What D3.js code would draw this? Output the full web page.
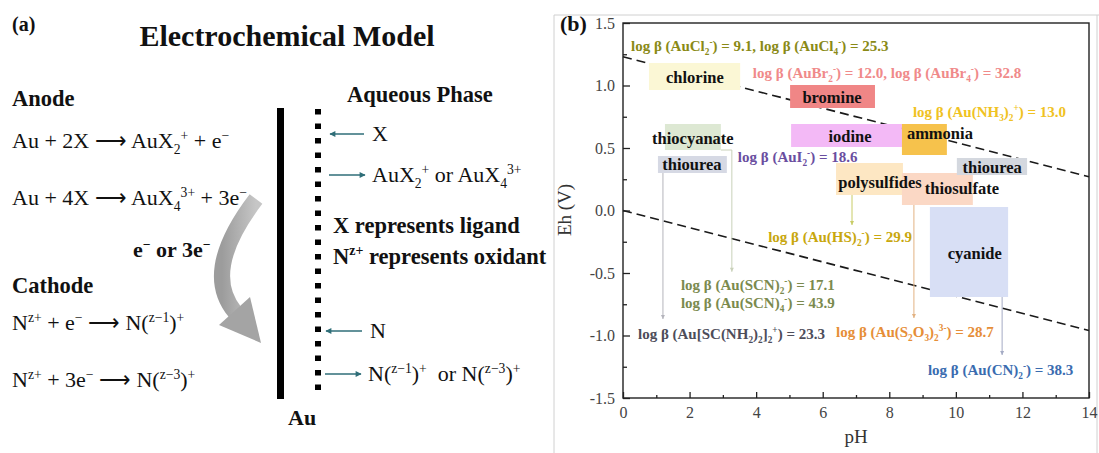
<!DOCTYPE html>
<html>
<head>
<meta charset="utf-8">
<script src="https://cdn.jsdelivr.net/npm/d3@7"></script>
<style>
  body { margin: 0; background: #fff; }
  svg { display: block; }
  svg text { font-family: "Liberation Serif", "Times New Roman", serif; }
</style>
</head>
<body>
<svg id="fig" width="1099" height="453"></svg>
<script>
// ---- data (panel b: pH / Eh units) ----
const regions = ['chlorine', 'bromine', 'iodine', 'ammonia', 'thiocyanate', 'thiourea',
  'polysulfides', 'thiosulfate', 'thiourea', 'cyanide'];
const regionPH = [[0.78, 3.52], [5.02, 7.57], [5.05, 8.38], [8.38, 9.73], [1.26, 2.94],
  [1.05, 3.12], [6.40, 8.41], [8.38, 10.51], [10.03, 12.14], [9.22, 11.57]];
const regionEh = [[0.964, 1.18], [0.82, 1.004], [0.508, 0.692], [0.444, 0.692], [0.484, 0.692],
  [0.30, 0.436], [0.124, 0.38], [0.044, 0.30], [0.284, 0.42], [-0.692, 0.028]];
const regionFill = ['#fbf7d5', '#f08686', '#f3b9f6', '#f6c24c', '#dde8d3', '#d6d9e4',
  '#fde7c3', '#fbd8c5', '#d4d8df', '#d8dff5'];
const regionTextAt = [[2.16, 1.07], [6.28, 0.908], [6.82, 0.596], [9.52, 0.62], [2.10, 0.58],
  [2.07, 0.37], [7.72, 0.228], [10.18, 0.18], [11.09, 0.348], [10.57, -0.34]];

const stabLabels = [
  'log β (AuCl_{2}^{-}) = 9.1, log β (AuCl_{4}^{-}) = 25.3',
  'log β (AuBr_{2}^{-}) = 12.0, log β (AuBr_{4}^{-}) = 32.8',
  'log β (Au(NH_{3})_{2}^{+}) = 13.0',
  'log β (AuI_{2}^{-}) = 18.6',
  'log β (Au(HS)_{2}^{-}) = 29.9',
  'log β (Au(SCN)_{2}^{-}) = 17.1',
  'log β (Au(SCN)_{4}^{-}) = 43.9',
  'log β (Au[SC(NH_{2})_{2}]_{2}^{+}) = 23.3',
  'log β (Au(S_{2}O_{3})_{2}^{3-}) = 28.7',
  'log β (Au(CN)_{2}^{-}) = 38.3'];
const stabAt = [[0.24, 1.316], [3.9, 1.10], [8.71, 0.788], [3.45, 0.428], [4.36, -0.212],
  [1.74, -0.596], [1.74, -0.74], [0.45, -0.988], [6.40, -0.972], [9.16, -1.276]];
const stabColor = ['#8a8a16', '#f08a8a', '#f0c222', '#6a4ea0', '#c8a70e',
  '#7b8a4e', '#7b8a4e', '#4d4d5a', '#e68e38', '#3a6cb0'];

// leader lines from region boxes down to their labels
const leaders = [
  [[1.2, 0.30], [1.2, -0.868]],
  [[2.94, 0.484], [3.27, 0.484], [3.27, -0.49]],
  [[6.88, 0.124], [6.88, -0.116]],
  [[8.74, 0.044], [8.74, -0.86]],
  [[11.39, -0.692], [11.39, -1.156]]];
const leaderColor = ['#b4b4bc', '#c9d1b9', '#c8cc66', '#e2b282', '#a4abc4'];

// water stability lines
const waterUpper = [[0, 1.23], [14, 0.27]];
const waterLower = [[0, 0], [14, -0.96]];

const xTicks = [0, 2, 4, 6, 8, 10, 12, 14];
const xMinor = [1, 3, 5, 7, 9, 11, 13];
const yTicks = [-1.5, -1.0, -0.5, 0.0, 0.5, 1.0, 1.5];
const yMinor = [-1.25, -0.75, -0.25, 0.25, 0.75, 1.25];

// ---- data (panel a) ----
const anodeEq = ['Au + 2X ⟶ AuX_{2}^{+} + e^{−}', 'Au + 4X ⟶ AuX_{4}^{3+} + 3e^{−}'];
const cathodeEq = ['N^{z+} + e^{−} ⟶ N(^{z−1})^{+}', 'N^{z+} + 3e^{−} ⟶ N(^{z−3})^{+}'];
const species = ['X', 'AuX_{2}^{+} or AuX_{4}^{3+}', 'N', 'N(^{z−1})^{+}  or N(^{z−3})^{+}'];

const svg = d3.select('#fig');

// text with _{sub} and ^{sup} pieces
function rich(sel, str, size) {
  const parts = str.split(/(_\{[^}]*\}|\^\{[^}]*\})/).filter(p => p.length);
  let cur = 0;
  parts.forEach((p) => {
    let t = p;
    let shift = 0;
    let fs = size;
    if (p[0] === '_' && p[1] === '{') { t = p.slice(2, -1); shift = size * 0.25; fs = size * 0.62; }
    else if (p[0] === '^' && p[1] === '{') { t = p.slice(2, -1); shift = -size * 0.38; fs = size * 0.62; }
    sel.append('tspan').attr('dy', shift - cur).attr('font-size', fs).text(t);
    cur = shift;
  });
  return sel;
}

function label(x, y, str, size, opts = {}) {
  const t = svg.append('text')
    .attr('x', x).attr('y', y)
    .attr('font-size', size)
    .attr('font-weight', opts.bold ? 'bold' : 'normal')
    .attr('fill', opts.fill || '#111')
    .attr('text-anchor', opts.anchor || 'start')
    .style('white-space', 'pre');
  return rich(t, str, size);
}

// ================= panel (a) =================
label(12, 31, '(a)', 20, { bold: true });
label(287, 46, 'Electrochemical Model', 30, { bold: true, anchor: 'middle' });
label(12, 106, 'Anode', 22.5, { bold: true });
anodeEq.forEach((s, i) => label(12, 148 + i * 57, s, 22));
label(133, 257, 'e^{−} or 3e^{−}', 22, { bold: true });
label(12, 293, 'Cathode', 22.5, { bold: true });
cathodeEq.forEach((s, i) => label(12, 330 + i * 57, s, 22));

// curved grey arrow
const grad = svg.append('defs').append('linearGradient').attr('id', 'g1')
  .attr('x1', 0).attr('y1', 0).attr('x2', 1).attr('y2', 0);
grad.append('stop').attr('offset', 0).attr('stop-color', '#9c9c9c');
grad.append('stop').attr('offset', 1).attr('stop-color', '#c6c6c6');
const arc = d3.path();
arc.moveTo(256, 199);
arc.quadraticCurveTo(201, 271, 235, 312);
svg.append('path').attr('d', arc.toString())
  .attr('fill', 'none').attr('stroke', 'url(#g1)').attr('stroke-width', 16);
svg.append('path').attr('d', 'M219,325 L250,297 L261,343 Z').attr('fill', '#a4a4a4');

// electrode
svg.append('rect').attr('x', 277).attr('y', 108).attr('width', 7).attr('height', 291).attr('fill', '#000');
svg.append('line').attr('x1', 318).attr('x2', 318).attr('y1', 109).attr('y2', 399)
  .attr('stroke', '#000').attr('stroke-width', 6).attr('stroke-dasharray', '5.5 9');
label(288, 425, 'Au', 22, { bold: true });
label(347, 102, 'Aqueous Phase', 22.5, { bold: true });
label(333, 233, 'X represents ligand', 22.5, { bold: true });
label(333, 264, 'N^{z+} represents oxidant', 22.5, { bold: true });

const teal = '#2f6e78';
const defs = svg.select('defs');
defs.append('marker').attr('id', 'ah').attr('viewBox', '0 0 10 10')
  .attr('refX', 9).attr('refY', 5).attr('markerWidth', 7).attr('markerHeight', 6)
  .attr('orient', 'auto').attr('markerUnits', 'userSpaceOnUse')
  .append('path').attr('d', 'M0,0 L10,5 L0,10 Z').attr('fill', teal);
const arrowRows = [[364, 330, 134], [329, 365, 175], [362, 326, 331], [325, 361, 374]];
arrowRows.forEach(([x1, x2, yy]) => {
  svg.append('line').attr('x1', x1).attr('x2', x2).attr('y1', yy).attr('y2', yy)
    .attr('stroke', teal).attr('stroke-width', 1.6).attr('marker-end', 'url(#ah)');
});
const speciesPos = [[372, 141], [372, 182], [370, 338], [368, 381]];
species.forEach((s, i) => label(speciesPos[i][0], speciesPos[i][1], s, 22));

// ================= panel (b) =================
svg.append('path').attr('d', 'M554,453 L554,15 L1099,15 M1097,15 L1097,453')
  .attr('fill', 'none').attr('stroke', '#d0d0d0').attr('stroke-width', 1);

const x = d3.scaleLinear().domain([0, 14]).range([623, 1089]);
const y = d3.scaleLinear().domain([-1.5, 1.5]).range([398, 23]);
const line = d3.line().x(d => x(d[0])).y(d => y(d[1]));

const plot = svg.append('g');
[waterUpper, waterLower].forEach((w) => {
  plot.append('path').datum(w).attr('d', line)
    .attr('fill', 'none').attr('stroke', '#1a1a1a').attr('stroke-width', 1.6)
    .attr('stroke-dasharray', '9 5');
});

leaders.forEach((l, i) => {
  plot.append('path').datum(l).attr('d', line)
    .attr('fill', 'none').attr('stroke', leaderColor[i]).attr('stroke-width', 1);
  const end = l[l.length - 1];
  plot.append('path')
    .attr('d', `M${x(end[0]) - 2},${y(end[1]) - 4} L${x(end[0]) + 2},${y(end[1]) - 4} L${x(end[0])},${y(end[1])} Z`)
    .attr('fill', leaderColor[i]);
});

regions.forEach((r, i) => {
  plot.append('rect')
    .attr('x', x(regionPH[i][0])).attr('width', x(regionPH[i][1]) - x(regionPH[i][0]))
    .attr('y', y(regionEh[i][1])).attr('height', y(regionEh[i][0]) - y(regionEh[i][1]))
    .attr('fill', regionFill[i]);
});
regions.forEach((r, i) => {
  plot.append('text')
    .attr('x', x(regionTextAt[i][0])).attr('y', y(regionTextAt[i][1]))
    .attr('dy', '0.35em').attr('text-anchor', 'middle')
    .attr('font-size', 16.5).attr('font-weight', 'bold').attr('fill', '#111')
    .text(r);
});

stabLabels.forEach((s, i) => {
  const t = plot.append('text')
    .attr('x', x(stabAt[i][0])).attr('y', y(stabAt[i][1]) + 5)
    .attr('font-size', 15).attr('font-weight', 'bold').attr('fill', stabColor[i]);
  rich(t, s, 15);
});

// axes
const fmtY = d => d.toFixed(1);
const gx = svg.append('g').attr('transform', 'translate(0,398)')
  .call(d3.axisBottom(x).tickValues(xTicks).tickSizeInner(-6).tickSizeOuter(0).tickPadding(9));
svg.append('g').attr('transform', 'translate(0,398)')
  .call(d3.axisBottom(x).tickValues(xMinor).tickSizeInner(-3).tickSizeOuter(0).tickFormat(''));
const gy = svg.append('g').attr('transform', 'translate(623,0)')
  .call(d3.axisLeft(y).tickValues(yTicks).tickSizeInner(-7).tickSizeOuter(0).tickPadding(8).tickFormat(fmtY));
svg.append('g').attr('transform', 'translate(623,0)')
  .call(d3.axisLeft(y).tickValues(yMinor).tickSizeInner(-4).tickSizeOuter(0).tickFormat(''));
svg.selectAll('.domain').remove();
svg.selectAll('.tick line').attr('stroke', '#222').attr('stroke-width', 1.3);
[gx, gy].forEach(g => g.selectAll('text')
  .attr('font-size', 16).attr('fill', '#444'));

svg.append('rect').attr('x', 623).attr('y', 23).attr('width', 466).attr('height', 375)
  .attr('fill', 'none').attr('stroke', '#222').attr('stroke-width', 1.4);

label(560, 31, '(b)', 22, { bold: true });
svg.append('text').attr('transform', 'translate(571,210) rotate(-90)')
  .attr('text-anchor', 'middle').attr('font-size', 19).attr('fill', '#333').text('Eh (V)');
svg.append('text').attr('x', 856).attr('y', 443).attr('text-anchor', 'middle')
  .attr('font-size', 19).attr('fill', '#333').text('pH');
</script>
</body>
</html>
